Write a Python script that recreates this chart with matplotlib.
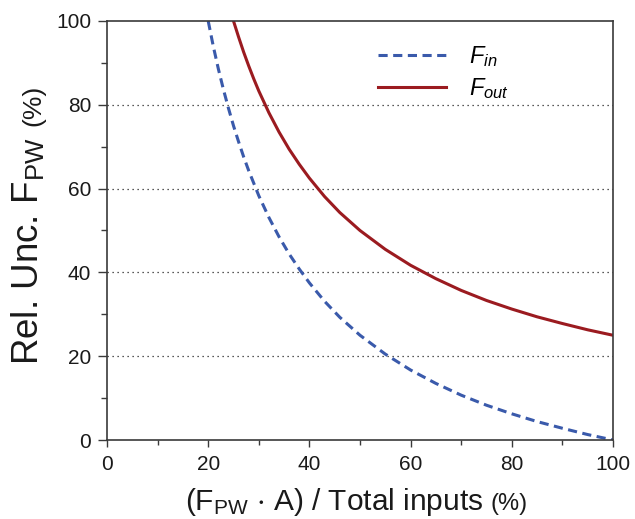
import matplotlib
matplotlib.use("Agg")
import matplotlib.pyplot as plt
from matplotlib.ticker import MultipleLocator

plt.rcParams['font.family'] = ['Liberation Sans', 'DejaVu Sans']
plt.rcParams['mathtext.fontset'] = 'custom'
plt.rcParams['mathtext.rm'] = 'Liberation Sans'
plt.rcParams['mathtext.it'] = 'Liberation Sans:italic'
plt.rcParams['mathtext.default'] = 'regular'

# ---------------- Data ----------------
x_in = [20, 21, 22, 23, 24, 25, 26, 27, 28, 30, 32, 34, 36, 38, 40, 43, 46, 50,
        55, 60, 65, 70, 75, 80, 85, 90, 95, 100]
f_in = [100, 94.0, 88.6, 83.7, 79.2, 75.0, 71.2, 67.6, 64.3, 58.3, 53.1, 48.5, 44.4, 40.8,
        37.5, 33.1, 29.3, 25.0, 20.5, 16.7, 13.5, 10.7, 8.3, 6.25, 4.4, 2.8, 1.3, 0.0]

x_out = [25, 26, 27, 28, 29, 30, 32, 34, 36, 38, 40, 43, 46, 50, 55, 60, 65, 70,
         75, 80, 85, 90, 95, 100]
f_out = [100, 96.2, 92.6, 89.3, 86.2, 83.3, 78.1, 73.5, 69.4, 65.8, 62.5, 58.1, 54.3, 50.0,
         45.5, 41.7, 38.5, 35.7, 33.3, 31.25, 29.4, 27.8, 26.3, 25.0]

x_ticks = [0, 20, 40, 60, 80, 100]
y_ticks = [0, 20, 40, 60, 80, 100]

BLUE = "#3a5aab"
RED = "#9b1b20"
GREY = "#3a3a3a"
TXT = "#1a1a1a"

W, H = 635, 519
fig = plt.figure(figsize=(W / 100, H / 100), dpi=100)
ax = fig.add_axes([107 / W, 1 - 440 / H, 506 / W, 419 / H])

ax.plot(x_in, f_in, color=BLUE, lw=2.2, dashes=(3.0, 1.8), dash_capstyle='butt',
        label=r"$\mathit{F_{in}}$")
ax.plot(x_out, f_out, color=RED, lw=2.2, label=r"$\mathit{F_{out}}$")

ax.set_xlim(0, 100)
ax.set_ylim(0, 100)
ax.set_xticks(x_ticks)
ax.set_yticks(y_ticks)
ax.xaxis.set_minor_locator(MultipleLocator(10))
ax.yaxis.set_minor_locator(MultipleLocator(10))
ax.tick_params(which='both', direction='out', width=1.0, color=GREY,
               labelsize=15, labelcolor=TXT)
ax.tick_params(axis='x', which='major', length=5, pad=6)
ax.tick_params(axis='x', which='minor', length=3.5)
ax.tick_params(axis='y', which='major', length=6.5, pad=5)
ax.tick_params(axis='y', which='minor', length=4)
for s in ax.spines.values():
    s.set_color(GREY)
    s.set_linewidth(1.2)

for yv in y_ticks[1:-1]:
    ax.axhline(yv, color="#222222", lw=0.9, ls=(0, (1, 3)), zorder=0)

ax.legend(loc='upper right', bbox_to_anchor=(0.836, 0.995), frameon=False,
          fontsize=17, handlelength=2.9, handletextpad=0.95, labelspacing=0.3)

# axis labels, each followed by a smaller "(%)"
renderer = fig.canvas.get_renderer()

xl = fig.text(185 / W, 1 - 510 / H, r"(F$_{PW}$ $\cdot$ A) / Total inputs", fontsize=21.5,
              ha='left', va='baseline', color=TXT)
bb = xl.get_window_extent(renderer)
fig.text((bb.x1 + 7) / W, 1 - 510 / H, "(%)", fontsize=17, ha='left', va='baseline',
         color=TXT)

yl = fig.text(38 / W, 1 - 365 / H, r"Rel. Unc. F$_{PW}$", fontsize=26.5, rotation=90,
              rotation_mode='anchor', ha='left', va='baseline', color=TXT)
bb = yl.get_window_extent(renderer)
fig.text(40 / W, (bb.y1 + 11) / H, "(%)", fontsize=19, rotation=90,
         rotation_mode='anchor', ha='left', va='baseline', color=TXT)

fig.savefig("out.png", dpi=100)
